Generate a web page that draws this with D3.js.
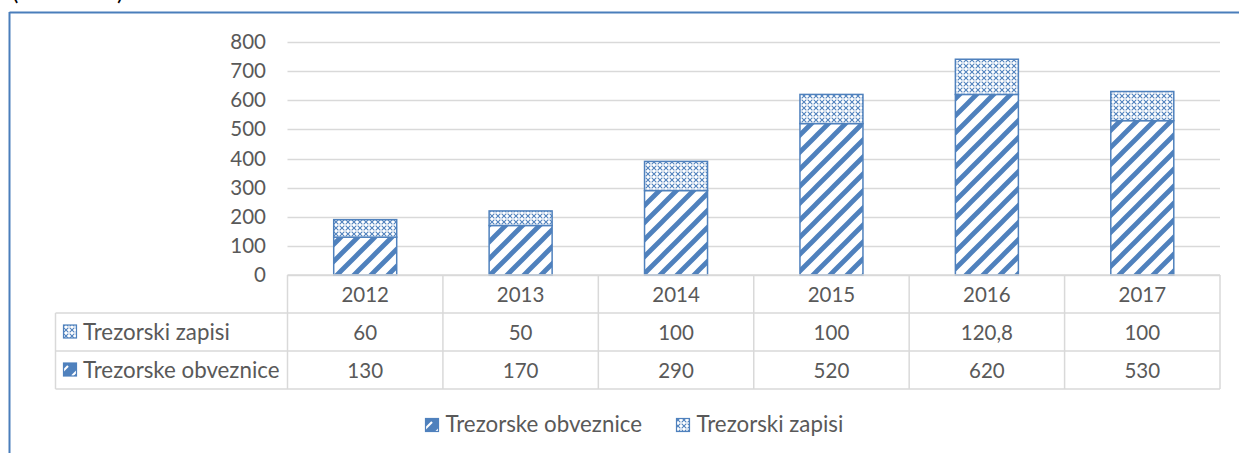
<!DOCTYPE html>
<html>
<head>
<meta charset="utf-8">
<script src="https://cdn.jsdelivr.net/npm/d3@7"></script>
<style>
  html, body { margin: 0; padding: 0; background: #fff; }
  svg { display: block; font-family: Lato, "Liberation Sans", sans-serif; }
</style>
</head>
<body>
<svg id="chart" width="1239" height="453"></svg>
<script>
const years = ["2012", "2013", "2014", "2015", "2016", "2017"];
const obveznice = [130, 170, 290, 520, 620, 530];
const zapisi = [60, 50, 100, 100, 120.8, 100];
const zapisiLabels = ["60", "50", "100", "100", "120,8", "100"];
const obveznLabels = ["130", "170", "290", "520", "620", "530"];
const yTicks = [0, 100, 200, 300, 400, 500, 600, 700, 800];
const seriesNames = ["Trezorske obveznice", "Trezorski zapisi"];

const blue = "#4F81BD";
const txt = "#595959";
const grid = "#D9D9D9";
const numSize = 20.5;
const nameSize = 22.3;

const svg = d3.select("#chart");
const defs = svg.append("defs");

// stripe pattern (wide upward diagonal)
const ps = defs.append("pattern").attr("id", "stripes")
  .attr("patternUnits", "userSpaceOnUse").attr("width", 17).attr("height", 17);
ps.append("rect").attr("width", 17).attr("height", 17).attr("fill", "#fff");
ps.append("path").attr("d", "M-4,21 L21,-4 M-4,4 L4,-4 M13,21 L21,13")
  .attr("stroke", blue).attr("stroke-width", 4.8);

// small stripes for legend icons
const psi = defs.append("pattern").attr("id", "stripesIcon")
  .attr("patternUnits", "userSpaceOnUse").attr("width", 14).attr("height", 14);
psi.append("rect").attr("width", 14).attr("height", 14).attr("fill", blue);
psi.append("path").attr("d", "M2,12 L12,2").attr("stroke", "#fff").attr("stroke-width", 2.2);

// dotted pattern
const pd = defs.append("pattern").attr("id", "dots")
  .attr("patternUnits", "userSpaceOnUse").attr("width", 6).attr("height", 6);
pd.append("rect").attr("width", 6).attr("height", 6).attr("fill", "#fff");
pd.append("path").attr("d", "M0,0 L6,6 M6,0 L0,6").attr("stroke", blue).attr("stroke-width", 1.1);
pd.append("circle").attr("cx", 3).attr("cy", 3).attr("r", 1).attr("fill", "#fff");

// outer frame (blue)
svg.append("line").attr("x1", 9.5).attr("x2", 1239).attr("y1", 12.5).attr("y2", 12.5)
  .attr("stroke", "#4A7EBB").attr("stroke-width", 2);
svg.append("line").attr("x1", 9.5).attr("x2", 9.5).attr("y1", 12).attr("y2", 453)
  .attr("stroke", "#4A7EBB").attr("stroke-width", 2);

// cut-off title parentheses (as in the reference, only their lower ends show)
svg.append("text").attr("x", 12).attr("y", 0).attr("font-size", 24).attr("fill", "#000").text("(");
svg.append("text").attr("x", 117).attr("y", 0).attr("font-size", 24).attr("fill", "#000").text(")");

const x = d3.scaleBand().domain(years).range([287.5, 1220]).padding(0);
const y = d3.scaleLinear().domain([0, 800]).range([275, 42]);

// gridlines
svg.append("g").selectAll("line").data(yTicks).join("line")
  .attr("x1", 287.5).attr("x2", 1220)
  .attr("y1", d => Math.round(y(d)) + 0.5).attr("y2", d => Math.round(y(d)) + 0.5)
  .attr("stroke", grid).attr("stroke-width", 1.3);

// y axis labels
const yAxis = d3.axisLeft(y).tickValues(yTicks).tickSize(0).tickPadding(0);
const gy = svg.append("g").attr("transform", "translate(266,0)").call(yAxis);
gy.select(".domain").remove();
gy.selectAll("text").attr("font-size", numSize).attr("fill", txt).attr("font-family", "Lato, sans-serif");

// bars
const bw = 63;
const g = svg.append("g");
years.forEach((yr, i) => {
  const cx = x(yr) + x.bandwidth() / 2;
  const b0 = 0, b1 = obveznice[i], b2 = obveznice[i] + zapisi[i];
  g.append("rect").attr("x", cx - bw / 2).attr("width", bw)
    .attr("y", y(b1)).attr("height", y(b0) - y(b1))
    .attr("fill", "url(#stripes)").attr("stroke", blue).attr("stroke-width", 1.5);
  g.append("rect").attr("x", cx - bw / 2).attr("width", bw)
    .attr("y", y(b2)).attr("height", y(b1) - y(b2))
    .attr("fill", "url(#dots)").attr("stroke", blue).attr("stroke-width", 1.5);
});

// data table
const rowTops = [275, 313, 351, 389];
const tableLeft = 55.5;
const tg = svg.append("g").attr("stroke", grid).attr("stroke-width", 1.5).attr("fill", "none");
tg.append("line").attr("x1", x.range()[0]).attr("x2", 1220).attr("y1", rowTops[0]).attr("y2", rowTops[0]);
[1, 2, 3].forEach(k => tg.append("line").attr("x1", tableLeft).attr("x2", 1220)
  .attr("y1", rowTops[k]).attr("y2", rowTops[k]));
const colEdges = years.map(yr => x(yr)).concat([1220]);
colEdges.forEach(cx => tg.append("line").attr("x1", cx).attr("x2", cx).attr("y1", rowTops[0]).attr("y2", rowTops[3]));
tg.append("line").attr("x1", tableLeft).attr("x2", tableLeft).attr("y1", rowTops[1]).attr("y2", rowTops[3]);

const textRows = [years, zapisiLabels, obveznLabels];
textRows.forEach((row, r) => {
  svg.append("g").selectAll("text").data(row).join("text")
    .attr("x", (d, i) => x(years[i]) + x.bandwidth() / 2)
    .attr("y", (rowTops[r] + rowTops[r + 1]) / 2 + 7.5)
    .attr("text-anchor", "middle").attr("font-size", numSize).attr("fill", txt)
    .text(d => d);
});

// row headers
const rowHeaders = [
  { name: seriesNames[1], fill: "url(#dots)" },
  { name: seriesNames[0], fill: "url(#stripesIcon)" }
];
rowHeaders.forEach((h, k) => {
  const cy = (rowTops[k + 1] + rowTops[k + 2]) / 2;
  svg.append("rect").attr("x", 63.5).attr("y", cy - 7).attr("width", 13).attr("height", 13)
    .attr("fill", h.fill).attr("stroke", blue).attr("stroke-width", 1.2);
  svg.append("text").attr("x", 83).attr("y", cy + 7.5).attr("font-size", nameSize).attr("fill", txt).text(h.name);
});

// legend
const legend = [
  { name: seriesNames[0], fill: "url(#stripesIcon)", x: 425.5 },
  { name: seriesNames[1], fill: "url(#dots)", x: 676.5 }
];
legend.forEach(l => {
  svg.append("rect").attr("x", l.x).attr("y", 418.5).attr("width", 13).attr("height", 13)
    .attr("fill", l.fill).attr("stroke", blue).attr("stroke-width", 1.2);
  svg.append("text").attr("x", l.x + 20).attr("y", 432).attr("font-size", nameSize).attr("fill", txt).text(l.name);
});
</script>
</body>
</html>
